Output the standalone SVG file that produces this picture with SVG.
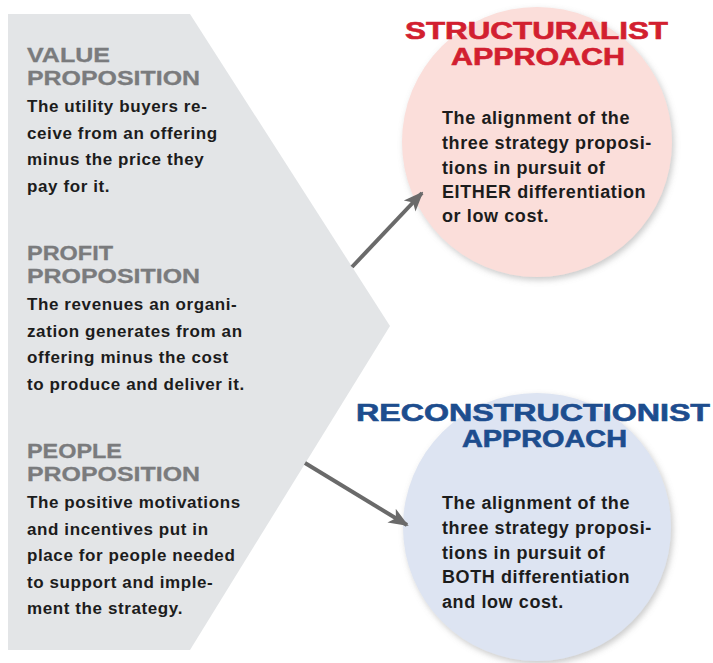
<svg xmlns="http://www.w3.org/2000/svg" width="713" height="663" viewBox="0 0 713 663">
<defs>
<style>
.bg{fill:#ffffff}
.panel{fill:#e3e5e7}
.head{font-family:"Liberation Sans",Arial,sans-serif;font-weight:bold;font-size:21px;fill:#7a7b7d;stroke:#7a7b7d;stroke-width:0.3px}
.body{font-family:"Liberation Sans",Arial,sans-serif;font-weight:bold;font-size:17px;fill:#1c1c1c;letter-spacing:0.6px}
.cbody{font-family:"Liberation Sans",Arial,sans-serif;font-weight:bold;font-size:18px;fill:#1c1c1c;letter-spacing:0.6px}
.title{font-family:"Liberation Sans",Arial,sans-serif;font-weight:bold;font-size:23px;stroke-width:0.6px}
.red{fill:#d21f30;stroke:#d21f30}
.blue{fill:#1d4d8e;stroke:#1d4d8e}
.arrow{stroke:#6a6a6a;stroke-width:4;fill:none;marker-end:url(#ah)}
</style>
<marker id="ah" markerUnits="userSpaceOnUse" markerWidth="20" markerHeight="20" viewBox="0 0 20 20" refX="18" refY="10" orient="auto">
<path d="M0,2 L20,10 L0,18 L5,10 Z" fill="#6a6a6a"/>
</marker>
<filter id="sh" x="-10%" y="-10%" width="125%" height="125%">
<feDropShadow dx="2" dy="3" stdDeviation="3" flood-color="#8a8a8a" flood-opacity="0.45"/>
</filter>
</defs>
<rect class="bg" x="0" y="0" width="713" height="663"/>

<g id="propositions">
<polygon class="panel" points="8,14 190,14 390,326 190,650 8,650"/>
<g id="value">
<text class="head" x="27" y="62" textLength="83" lengthAdjust="spacingAndGlyphs">VALUE</text>
<text class="head" x="27" y="85" textLength="173" lengthAdjust="spacingAndGlyphs">PROPOSITION</text>
<text class="body" x="27" y="112">The utility buyers re-</text>
<text class="body" x="27" y="138.5">ceive from an offering</text>
<text class="body" x="27" y="165">minus the price they</text>
<text class="body" x="27" y="191.5">pay for it.</text>
</g>
<g id="profit">
<text class="head" x="27" y="260" textLength="86" lengthAdjust="spacingAndGlyphs">PROFIT</text>
<text class="head" x="27" y="283" textLength="173" lengthAdjust="spacingAndGlyphs">PROPOSITION</text>
<text class="body" x="27" y="310">The revenues an organi-</text>
<text class="body" x="27" y="336.5">zation generates from an</text>
<text class="body" x="27" y="363">offering minus the cost</text>
<text class="body" x="27" y="389.5">to produce and deliver it.</text>
</g>
<g id="people">
<text class="head" x="27" y="458" textLength="95" lengthAdjust="spacingAndGlyphs">PEOPLE</text>
<text class="head" x="27" y="481" textLength="173" lengthAdjust="spacingAndGlyphs">PROPOSITION</text>
<text class="body" x="27" y="508">The positive motivations</text>
<text class="body" x="27" y="534.5">and incentives put in</text>
<text class="body" x="27" y="561">place for people needed</text>
<text class="body" x="27" y="587.5">to support and imple-</text>
<text class="body" x="27" y="614">ment the strategy.</text>
</g>
</g>

<g id="structuralist">
<circle cx="537" cy="142" r="135" fill="#fbdeda" filter="url(#sh)"/>
<text class="title red" x="405" y="39" textLength="263" lengthAdjust="spacingAndGlyphs">STRUCTURALIST</text>
<text class="title red" x="451" y="65" textLength="174" lengthAdjust="spacingAndGlyphs">APPROACH</text>
<text class="cbody" x="442" y="124">The alignment of the</text>
<text class="cbody" x="442" y="149">three strategy proposi-</text>
<text class="cbody" x="442" y="174">tions in pursuit of</text>
<text class="cbody" x="442" y="198">EITHER differentiation</text>
<text class="cbody" x="442" y="222">or low cost.</text>
</g>

<g id="reconstructionist">
<circle cx="537" cy="527" r="134" fill="#dde4f2" filter="url(#sh)"/>
<text class="title blue" x="356" y="421" textLength="354" lengthAdjust="spacingAndGlyphs">RECONSTRUCTIONIST</text>
<text class="title blue" x="462" y="447" textLength="165" lengthAdjust="spacingAndGlyphs">APPROACH</text>
<text class="cbody" x="442" y="509">The alignment of the</text>
<text class="cbody" x="442" y="534">three strategy proposi-</text>
<text class="cbody" x="442" y="559">tions in pursuit of</text>
<text class="cbody" x="442" y="583">BOTH differentiation</text>
<text class="cbody" x="442" y="608">and low cost.</text>
</g>

<g id="connectors">
<line class="arrow" x1="352" y1="267" x2="422" y2="193"/>
<line class="arrow" x1="305" y1="463" x2="407" y2="525"/>
</g>
</svg>
